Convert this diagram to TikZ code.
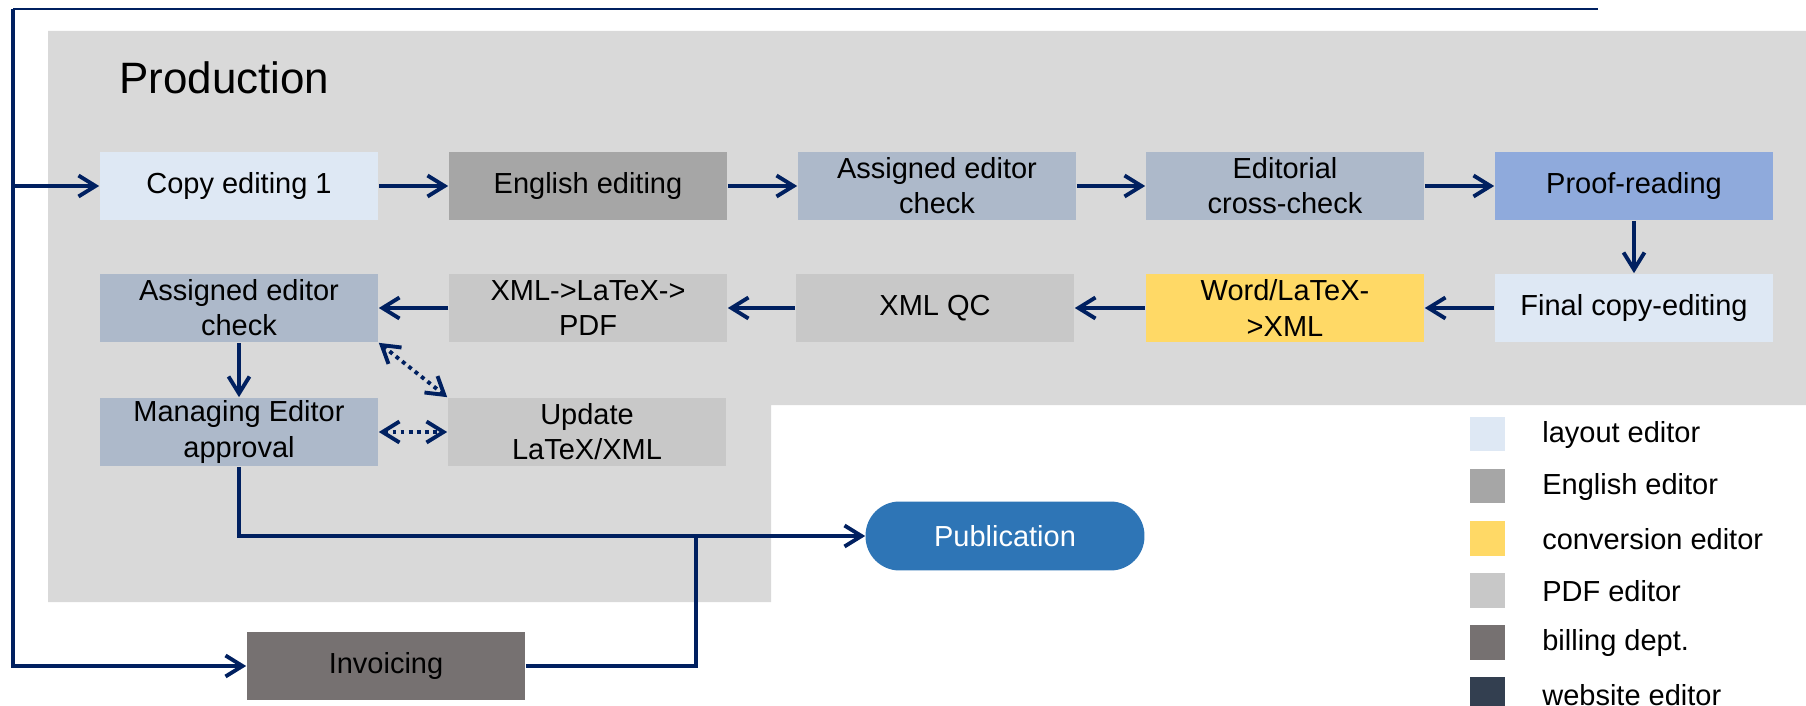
\documentclass[tikz,border=0pt]{standalone}
\usepackage{fontspec}
\setmainfont{Liberation Sans}
\usetikzlibrary{arrows.meta}

\definecolor{navy}{HTML}{002060}
\definecolor{region}{HTML}{D9D9D9}
\definecolor{layoutc}{HTML}{DEE8F4}
\definecolor{englishc}{HTML}{A6A6A6}
\definecolor{convc}{HTML}{FFD966}
\definecolor{pdfc}{HTML}{C8C8C8}
\definecolor{billc}{HTML}{767171}
\definecolor{webc}{HTML}{333F50}
\definecolor{assignc}{HTML}{ADB9CA}
\definecolor{proofc}{HTML}{8FAADC}
\definecolor{pubc}{HTML}{2E75B6}

\begin{document}
\begin{tikzpicture}[
  x=0.02cm,
  y=-0.02cm,
  >={Straight Barb[length=0.34cm,width=0.42cm]},
  every node/.style={font=\fontsize{16.5}{20}\selectfont,inner sep=0pt},
  task/.style={rectangle,minimum width=5.58cm,minimum height=1.38cm,align=center},
  key/.style={rectangle,minimum width=0.7cm,minimum height=0.7cm},
  edge/.style={->,draw=navy,line width=2.2pt},
  link/.style={draw=navy,line width=2.2pt},
  swap/.style={<->,draw=navy,line width=2.2pt,dash pattern=on 2.2pt off 2.4pt}
]
\useasboundingbox (0,0) rectangle (1806,706);

% Production area
\fill[region] (48,31) -- (1806,31) -- (1806,405) -- (771,405) -- (771,602) -- (48,602) -- cycle;
\node[anchor=west,font=\fontsize{25}{30}\selectfont] (title) at (119,78) {Production};

% First row
\node[task,fill=layoutc] (copy1) at (239,186) {Copy editing 1};
\node[task,fill=englishc] (english) at (588,186) {English editing};
\node[task,fill=assignc] (check1) at (937,186) {Assigned editor\\check};
\node[task,fill=assignc] (cross) at (1285,186) {Editorial\\cross-check};
\node[task,fill=proofc] (proof) at (1634,186) {Proof-reading};

\draw[edge] (copy1) -- (english);
\draw[edge] (english) -- (check1);
\draw[edge] (check1) -- (cross);
\draw[edge] (cross) -- (proof);

% Second row
\node[task,fill=assignc] (check2) at (239,308) {Assigned editor\\check};
\node[task,fill=pdfc] (xmlpdf) at (588,308) {XML->LaTeX->\\PDF};
\node[task,fill=pdfc] (xmlqc) at (935,308) {XML QC};
\node[task,fill=convc] (word) at (1285,308) {Word/LaTeX-\\>XML};
\node[task,fill=layoutc] (final) at (1634,308) {Final copy-editing};

\draw[edge] (proof) -- (final);
\draw[edge] (final) -- (word);
\draw[edge] (word) -- (xmlqc);
\draw[edge] (xmlqc) -- (xmlpdf);
\draw[edge] (xmlpdf) -- (check2);

% Third row
\node[task,fill=assignc] (manager) at (239,432) {Managing Editor\\approval};
\node[task,fill=pdfc] (update) at (587,432) {Update\\LaTeX/XML};

\draw[edge] (check2) -- (manager);
\draw[swap] (check2.south east) -- (update.north west);
\draw[swap] (manager) -- (update);

% Output
\node[task,fill=pubc,text=white,rounded corners=0.68cm] (pub) at (1005,536) {Publication};
\node[task,fill=billc] (invoice) at (386,666) {Invoicing};
\coordinate (join) at (696,536);

\draw[edge] (manager.south) |- (pub.west);
\draw[link] (invoice.east) -| (join);

% Feed line
\coordinate (topright) at (1598,9);
\coordinate (topleft) at (13,9);
\draw[navy,line width=1.1pt] (topright) -- (topleft);
\draw[edge] (topleft) |- (invoice.west);
\draw[edge] (topleft |- copy1.west) -- (copy1.west);

% Legend
\node[key,fill=layoutc] (k1) at (1487,434) {};
\node[key,fill=englishc] (k2) at (1487,486) {};
\node[key,fill=convc] (k3) at (1487,538) {};
\node[key,fill=pdfc] (k4) at (1487,590) {};
\node[key,fill=billc] (k5) at (1487,642) {};
\node[key,fill=webc] (k6) at (1487,694) {};
\node[anchor=west] (l1) at (1542,435) {layout editor};
\node[anchor=west] (l2) at (1542,487) {English editor};
\node[anchor=west] (l3) at (1542,539) {conversion editor};
\node[anchor=west] (l4) at (1542,591) {PDF editor};
\node[anchor=west] (l5) at (1542,643) {billing dept.};
\node[anchor=west] (l6) at (1542,695) {website editor};
\end{tikzpicture}
\end{document}
